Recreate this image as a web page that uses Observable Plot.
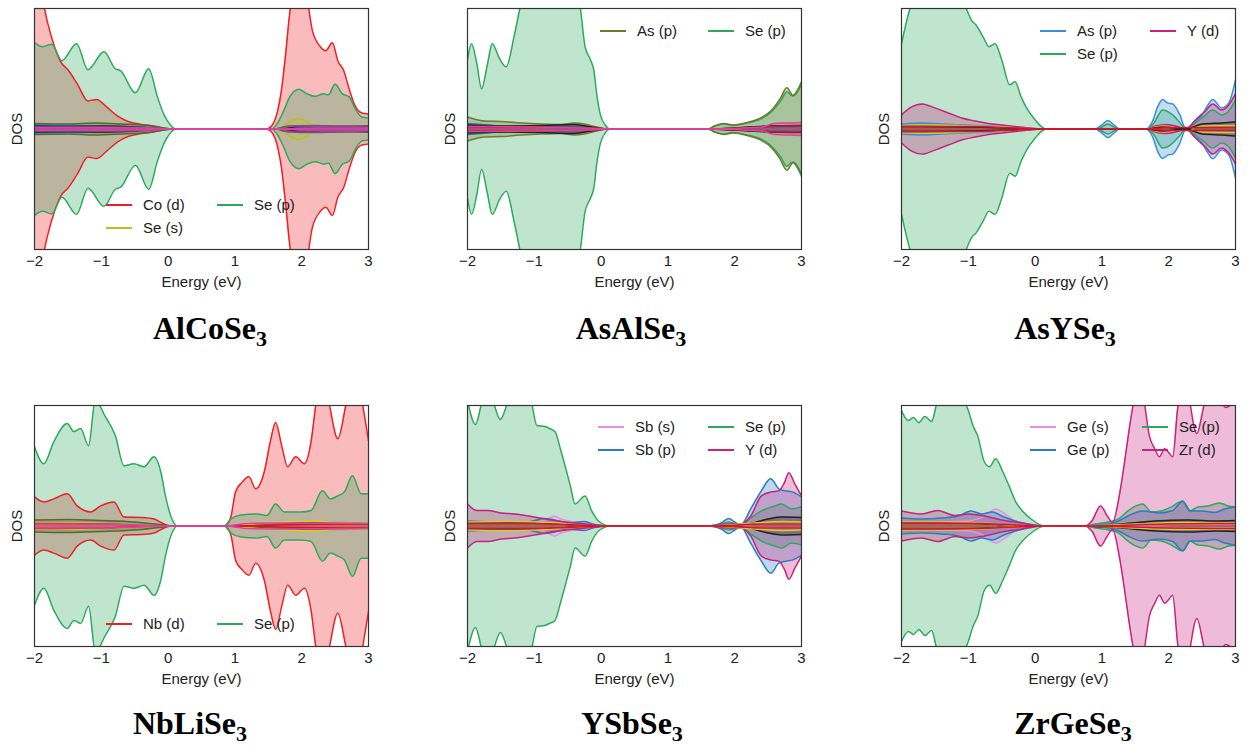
<!DOCTYPE html>
<html><head><meta charset="utf-8">
<script src="https://cdn.jsdelivr.net/npm/d3@7"></script>
<script src="https://cdn.jsdelivr.net/npm/@observablehq/plot@0.6"></script>
<style>
body{margin:0;background:#fff;width:1250px;height:746px;position:relative;overflow:hidden;font-family:"Liberation Sans",Arial,sans-serif}
.panel{position:absolute}
.title{position:absolute;font-family:"Liberation Serif","Times New Roman",serif;font-weight:bold;font-size:32px;line-height:1;text-align:center;width:300px;white-space:nowrap;color:#000}
.title sub{font-size:22px;vertical-align:-7px;line-height:0}
.leg{position:absolute;font-size:15px;color:#222;white-space:nowrap;line-height:1}
.sw{position:absolute;height:0;border-top:2px solid}
</style></head><body>
<script>
// ---------- tick labels ----------
const energyTicks = [-2, -1, 0, 1, 2, 3];

// ---------- AlCoSe3 ----------
const alcose_CoD = [[-2,16],[-1.9,13.5],[-1.8,10.5],[-1.7,8.2],[-1.6,6.6],[-1.5,5.9],[-1.36,4.5],[-1.2,2.8],[-1.07,2.95],[-0.92,2.2],[-0.76,1.3],[-0.6,0.75],[-0.4,0.45],[-0.2,0.28],[-0.05,0.08],[0.05,0],[1.47,0],[1.56,0.4],[1.64,1.8],[1.7,4.0],[1.76,7.5],[1.82,11.5],[1.95,15],[2.08,13],[2.16,9.8],[2.28,8.2],[2.36,7.8],[2.46,8.6],[2.54,6.8],[2.63,5.8],[2.71,4.0],[2.8,2.3],[2.9,1.6],[3,1.5]];
const alcose_SeP = [[-2,8.6],[-1.88,8.2],[-1.74,8.45],[-1.59,6.8],[-1.37,8.5],[-1.2,5.9],[-0.96,7.7],[-0.79,6.0],[-0.71,5.8],[-0.49,3.6],[-0.29,6.0],[-0.16,3.2],[-0.06,1.4],[0.04,0.35],[0.12,0],[1.55,0],[1.63,0.5],[1.73,1.8],[1.83,3.3],[1.96,3.95],[2.08,3.5],[2.2,3.25],[2.33,3.5],[2.4,3.4],[2.5,4.45],[2.61,3.5],[2.71,3.2],[2.81,1.9],[2.9,1.2],[3,1.1]];
const alcose_SeS = [[-2,0.35],[-1.5,0.3],[-1,0.3],[-0.5,0.2],[0,0.02],[0.1,0],[1.6,0],[1.7,0.2],[1.82,0.7],[1.95,1.05],[2.08,0.75],[2.2,0.25],[2.4,0.2],[2.7,0.25],[3,0.2]];
const alcose_m1 = [[-2,0.55],[-1.5,0.5],[-1.1,0.6],[-0.7,0.5],[-0.3,0.35],[0,0.05],[0.1,0],[1.6,0],[1.8,0.3],[2.2,0.35],[2.6,0.3],[3,0.3]];
const alcose_m2 = [[-2,0.4],[-1.6,0.35],[-1.2,0.3],[-0.6,0.25],[-0.2,0.1],[0.05,0],[1.6,0],[2,0.15],[3,0.15]];
const alcose_m3 = [[-2,0.3],[-1.5,0.25],[-1,0.3],[-0.5,0.2],[0,0],[1.6,0],[2,0.25],[2.5,0.2],[3,0.25]];
const alcose_m4 = [[-2,0.2],[-1,0.2],[-0.3,0.15],[0,0],[1.6,0],[1.9,0.3],[2.5,0.25],[3,0.2]];
const alcose_m5 = [[-2,0.12],[-1,0.12],[-0.3,0.08],[0,0],[1.6,0],[2.2,0.1],[3,0.1]];

// ---------- AsAlSe3 ----------
const asalse_SeP = [[-2,6.9],[-1.94,8.5],[-1.86,6.5],[-1.79,4.0],[-1.7,6.5],[-1.63,8.5],[-1.52,7.0],[-1.42,6.2],[-1.3,9.3],[-1.2,12.5],[-1.0,17],[-0.7,18],[-0.45,16],[-0.31,12],[-0.24,8.2],[-0.16,6.9],[-0.11,5.9],[-0.06,3.2],[-0.01,1.4],[0.06,0.4],[0.14,0],[1.6,0],[1.7,0.3],[1.84,0.5],[1.97,0.35],[2.19,0.6],[2.39,1.0],[2.54,1.65],[2.69,2.8],[2.78,3.7],[2.86,3.3],[3,4.7]];
const asalse_AsP = [[-2,1.2],[-1.9,1.0],[-1.75,0.8],[-1.5,0.75],[-1.2,0.6],[-0.9,0.5],[-0.6,0.45],[-0.4,0.6],[-0.25,0.5],[-0.1,0.25],[0.1,0],[1.6,0],[1.7,0.3],[1.84,0.55],[1.97,0.4],[2.19,0.65],[2.39,1.1],[2.54,1.8],[2.68,3.0],[2.78,4.1],[2.88,3.3],[3,4.5]];
const asalse_m1 = [[-2,0.55],[-1.8,0.45],[-1.5,0.3],[-1,0.25],[-0.5,0.3],[-0.2,0.2],[0.1,0],[1.6,0],[2,0.1],[2.6,0.2],[3,0.25]];
const asalse_m2 = [[-2,0.4],[-1.4,0.3],[-0.9,0.35],[-0.4,0.45],[-0.1,0.15],[0.1,0],[1.6,0],[2.5,0.3],[3,0.35]];
const asalse_m3 = [[-2,0.2],[-1,0.18],[-0.3,0.15],[0.1,0],[1.6,0],[2.3,0.15],[2.7,0.3],[3,0.3]];
const asalse_m4 = [[-2,0.25],[-1,0.2],[0,0.05],[0.1,0],[1.6,0],[2.4,0.2],[2.6,0.55],[2.8,0.6],[3,0.65]];

// ---------- AsYSe3 ----------
const asyse_SeP = [[-2,8.5],[-1.86,12.3],[-1.6,15],[-1.3,14],[-1.05,12.3],[-1.0,11.5],[-0.95,10.8],[-0.89,10.4],[-0.78,9.2],[-0.69,8.2],[-0.6,8.5],[-0.5,6.9],[-0.38,4.4],[-0.3,4.7],[-0.21,3.2],[-0.11,1.9],[-0.01,1.0],[0.09,0.27],[0.16,0],[0.9,0],[1.0,0.2],[1.09,0.5],[1.18,0.2],[1.27,0],[1.66,0],[1.78,0.6],[1.91,1.9],[2.06,1.4],[2.16,0.7],[2.26,0],[2.4,0.6],[2.52,1.2],[2.66,1.9],[2.79,1.4],[2.9,1.8],[3,2.9]];
const asyse_YD = [[-2,1.4],[-1.85,2.2],[-1.69,2.5],[-1.5,2.1],[-1.3,1.6],[-1.1,1.1],[-0.9,0.8],[-0.7,0.55],[-0.5,0.4],[-0.3,0.25],[-0.1,0.1],[0.1,0],[1.66,0],[1.8,0.3],[1.95,0.45],[2.1,0.3],[2.26,0],[2.4,0.9],[2.55,1.8],[2.66,2.5],[2.79,1.9],[2.9,2.4],[3,3.5]];
const asyse_AsP = [[-2,0.5],[-1.7,0.6],[-1.4,0.5],[-1.1,0.4],[-0.7,0.3],[-0.4,0.2],[-0.1,0.1],[0.1,0],[0.9,0],[1.0,0.4],[1.09,0.85],[1.18,0.4],[1.27,0],[1.66,0],[1.76,0.8],[1.84,2.3],[1.91,2.95],[1.98,2.6],[2.06,2.5],[2.16,1.5],[2.26,0],[2.38,0.7],[2.49,1.3],[2.58,2.3],[2.66,2.95],[2.79,2.1],[2.9,2.6],[3,4.9]];
const asyse_m1 = [[-2,0.35],[-1.5,0.4],[-1,0.3],[-0.5,0.2],[0.1,0],[1.66,0],[1.9,0.3],[2.26,0],[2.5,0.3],[3,0.35]];
const asyse_m2 = [[-2,0.25],[-1,0.2],[-0.4,0.1],[0.1,0],[1.66,0],[1.9,0.2],[2.26,0],[2.5,0.5],[2.8,0.6],[3,0.7]];
const asyse_m3 = [[-2,0.25],[-1,0.25],[-0.3,0.1],[0.1,0],[1.66,0],[2,0.15],[3,0.15]];

// ---------- NbLiSe3 ----------
const nblise_SeP = [[-2,7.9],[-1.86,6.2],[-1.71,8.4],[-1.51,10.2],[-1.41,9.4],[-1.31,9.7],[-1.19,8.0],[-1.09,12.5],[-0.94,10.9],[-0.79,9.0],[-0.66,6.0],[-0.51,6.2],[-0.36,5.9],[-0.21,6.9],[-0.11,5.4],[-0.04,3.0],[0.04,1.0],[0.14,0],[0.84,0],[0.94,0.7],[1.09,1.1],[1.33,1.2],[1.48,1.05],[1.61,2.2],[1.74,1.4],[1.99,1.4],[2.14,1.55],[2.31,3.5],[2.43,2.7],[2.54,3.0],[2.64,3.4],[2.76,5.0],[2.89,3.2],[3,3.2]];
const nblise_NbD = [[-2,2.9],[-1.86,2.4],[-1.71,2.7],[-1.51,3.2],[-1.36,2.0],[-1.16,1.4],[-1.01,2.0],[-0.81,2.4],[-0.66,0.9],[-0.4,0.85],[-0.21,0.7],[-0.06,0.2],[0.02,0],[0.84,0],[0.9,0.3],[0.94,0.9],[1.01,3.4],[1.1,4.3],[1.21,4.9],[1.31,3.7],[1.44,5.4],[1.53,8.4],[1.61,10.3],[1.7,8.0],[1.79,5.9],[1.91,6.9],[2.04,6.2],[2.14,8.4],[2.21,12],[2.3,15],[2.4,12.5],[2.54,8.7],[2.66,12],[2.78,16],[2.9,12.5],[3,8.5]];
const nblise_m1 = [[-2,0.6],[-1.5,0.65],[-1,0.55],[-0.5,0.4],[0,0.05],[0.1,0],[0.84,0],[1.5,0.2],[2.3,0.35],[3,0.3]];
const nblise_m2 = [[-2,0.3],[-1.5,0.3],[-1,0.25],[0,0],[0.84,0],[1.5,0.3],[2.2,0.5],[2.5,0.35],[3,0.3]];
const nblise_m3 = [[-2,0.25],[-1,0.2],[0,0],[0.84,0],[2,0.15],[3,0.2]];
const nblise_m4 = [[-2,0.2],[-1,0.2],[0,0],[0.84,0],[1.2,0.25],[1.8,0.3],[2.5,0.3],[3,0.25]];

// ---------- YSbSe3 ----------
const ysbse_SbS = [[-2,0.3],[-1.5,0.3],[-1.0,0.35],[-0.8,0.7],[-0.7,1.0],[-0.6,0.7],[-0.4,0.4],[-0.2,0.3],[0.05,0],[1.62,0],[2,0.1],[2.5,0.2],[3,0.2]];
const ysbse_SbP = [[-2,0.5],[-1.5,0.4],[-1.1,0.4],[-0.85,0.75],[-0.7,0.6],[-0.5,0.3],[-0.25,0.45],[-0.1,0.15],[0.1,0],[1.62,0],[1.8,0.3],[1.91,0.75],[2.0,0.4],[2.09,0.1],[2.24,1.7],[2.39,3.4],[2.54,4.7],[2.66,3.7],[2.76,3.5],[2.86,3.4],[3,2.9]];
const ysbse_SeP = [[-2,12.5],[-1.88,10.1],[-1.76,12.6],[-1.63,12.4],[-1.51,10.6],[-1.38,12.6],[-1.2,14],[-1.05,12.5],[-0.96,10.0],[-0.84,9.9],[-0.77,9.7],[-0.69,9.4],[-0.61,7.7],[-0.54,6.0],[-0.46,4.0],[-0.39,2.2],[-0.24,3.0],[-0.14,1.5],[-0.04,0.5],[0.14,0],[1.62,0],[1.8,0.2],[1.91,0.4],[2.09,0.1],[2.24,0.8],[2.4,1.5],[2.6,2.0],[2.7,2.2],[2.85,1.7],[3,1.9]];
const ysbse_YD = [[-2,2.2],[-1.86,1.55],[-1.7,1.55],[-1.5,1.3],[-1.3,1.2],[-1.0,0.9],[-0.7,0.55],[-0.4,0.3],[-0.1,0.1],[0.1,0],[1.62,0],[1.9,0.2],[2.1,0.2],[2.24,1.0],[2.4,3.0],[2.55,3.4],[2.66,3.5],[2.75,4.4],[2.81,5.3],[2.9,4.2],[3,3.0]];
const ysbse_m1 = [[-2,0.3],[-1,0.3],[0,0],[1.62,0],[2.2,0.2],[2.5,0.7],[2.7,0.9],[3,0.85]];
const ysbse_m2 = [[-2,0.4],[-1.4,0.45],[-0.8,0.35],[0,0],[1.62,0],[2.3,0.3],[2.7,0.45],[3,0.4]];
const ysbse_m3 = [[-2,0.25],[-1,0.25],[-0.5,0.15],[0.1,0],[1.62,0],[2.5,0.2],[3,0.2]];

// ---------- ZrGeSe3 ----------
const zrgese_GeS = [[-2,0.4],[-1.5,0.4],[-1.0,0.5],[-0.75,1.0],[-0.59,1.7],[-0.45,1.2],[-0.3,0.5],[-0.1,0.2],[0.1,0],[0.75,0],[1.5,0.1],[2.5,0.2],[3,0.2]];
const zrgese_GeP = [[-2,0.8],[-1.7,0.7],[-1.4,0.8],[-1.15,1.0],[-0.96,1.5],[-0.8,1.2],[-0.64,1.4],[-0.5,1.0],[-0.3,0.5],[-0.1,0.2],[0.1,0],[0.75,0],[0.9,0.1],[1.1,0.2],[1.25,0.5],[1.39,1.0],[1.61,1.5],[1.86,1.3],[2.06,1.55],[2.21,2.45],[2.33,1.5],[2.49,1.5],[2.69,1.35],[2.84,1.7],[3,1.9]];
const zrgese_SeP = [[-2,11.5],[-1.9,10.5],[-1.82,10.8],[-1.74,10.3],[-1.65,10.9],[-1.55,10.4],[-1.45,12.5],[-1.3,12.3],[-1.2,12.4],[-1.09,12.6],[-1.0,11.5],[-0.93,10.0],[-0.86,9.0],[-0.76,6.4],[-0.68,5.9],[-0.59,6.7],[-0.49,5.5],[-0.39,4.0],[-0.29,2.4],[-0.19,1.5],[-0.06,0.7],[0.14,0],[0.75,0],[0.9,0.2],[1.1,0.4],[1.25,0.7],[1.39,1.5],[1.51,2.0],[1.61,2.2],[1.74,1.4],[1.89,1.5],[2.04,1.9],[2.21,2.5],[2.31,1.5],[2.44,1.9],[2.59,2.0],[2.76,2.3],[2.89,2.0],[3,1.9]];
const zrgese_ZrD = [[-2,1.5],[-1.7,1.2],[-1.46,1.55],[-1.2,1.05],[-1.0,1.2],[-0.76,1.0],[-0.5,0.6],[-0.25,0.35],[-0.05,0.1],[0.1,0],[0.75,0],[0.85,0.5],[0.98,2.0],[1.08,1.0],[1.16,0.35],[1.26,3.0],[1.34,6.4],[1.41,9.7],[1.47,12.2],[1.55,15],[1.63,12.5],[1.71,9.0],[1.79,7.7],[1.86,6.9],[1.94,7.7],[1.99,7.4],[2.06,6.9],[2.14,12],[2.25,14],[2.42,9.2],[2.55,12.5],[2.7,13.5],[2.85,11.8],[3,12.5]];
const zrgese_m1 = [[-2,0.35],[-1,0.3],[0,0],[0.75,0],[1.3,0.2],[1.8,0.5],[2.3,0.6],[2.7,0.5],[3,0.55]];
const zrgese_m2 = [[-2,0.4],[-1,0.35],[0,0],[0.75,0],[1.5,0.2],[2.2,0.35],[3,0.3]];
const zrgese_m3 = [[-2,0.3],[-1.4,0.3],[-0.6,0.2],[0.1,0],[0.75,0],[2,0.2],[3,0.25]];

// ---------- colours ----------
const C = {
  red: "#ee1f25", green: "#2caa5c", ses: "#b8c21c", olive: "#6e7a28",
  blue: "#3a8fdc", sbblue: "#2c7cc0", magenta: "#c8217f", violet: "#e98fe4",
  mBlue: "#1f77b4", mOlive: "#4f6e26", mBlack: "#222222", mPurple: "#9b3fb5",
  mRed: "#d8152e", mYellow: "#cfd11f", mPink: "#e0409e"
};

const panels = [
  {left: 0, top: 0, title: "AlCoSe", tc: 210,
   series: [[alcose_CoD, C.red], [alcose_SeP, C.green], [alcose_SeS, C.ses], [alcose_m1, C.mOlive], [alcose_m2, C.mBlue], [alcose_m3, C.mBlack], [alcose_m4, C.mPurple], [alcose_m5, C.mPink]],
   legend: [["Co (d)", C.red, 0, 0], ["Se (p)", C.green, 1, 0], ["Se (s)", C.ses, 0, 1]], lx: [106, 217], ly: 205},
  {left: 433, top: 0, title: "AsAlSe", tc: 631,
   series: [[asalse_SeP, C.green], [asalse_AsP, C.olive], [asalse_m1, C.mBlue], [asalse_m2, C.mBlack], [asalse_m3, C.mRed], [asalse_m4, C.mPink]],
   legend: [["As (p)", C.olive, 0, 0], ["Se (p)", C.green, 1, 0]], lx: [600, 708], ly: 31},
  {left: 867, top: 0, title: "AsYSe", tc: 1065,
   series: [[asyse_SeP, C.green], [asyse_AsP, C.blue], [asyse_YD, C.magenta], [asyse_m1, C.mYellow], [asyse_m2, C.mBlack], [asyse_m3, C.mRed]],
   legend: [["As (p)", C.blue, 0, 0], ["Y (d)", C.magenta, 1, 0], ["Se (p)", C.green, 0, 1]], lx: [1040, 1150], ly: 31},
  {left: 0, top: 397, title: "NbLiSe", tc: 190,
   series: [[nblise_NbD, C.red], [nblise_SeP, C.green], [nblise_m1, C.mOlive], [nblise_m2, C.mYellow], [nblise_m3, C.mRed], [nblise_m4, C.mPink]],
   legend: [["Nb (d)", C.red, 0, 0], ["Se (p)", C.green, 1, 0]], lx: [106, 217], ly: 624},
  {left: 433, top: 397, title: "YSbSe", tc: 632,
   series: [[ysbse_SeP, C.green], [ysbse_SbS, C.violet], [ysbse_SbP, C.sbblue], [ysbse_YD, C.magenta], [ysbse_m1, C.mBlack], [ysbse_m2, C.mYellow], [ysbse_m3, C.mRed]],
   legend: [["Sb (s)", C.violet, 0, 0], ["Se (p)", C.green, 1, 0], ["Sb (p)", C.sbblue, 0, 1], ["Y (d)", C.magenta, 1, 1]], lx: [598, 708], ly: 427},
  {left: 867, top: 397, title: "ZrGeSe", tc: 1073,
   series: [[zrgese_SeP, C.green], [zrgese_GeS, C.violet], [zrgese_GeP, C.sbblue], [zrgese_ZrD, C.magenta], [zrgese_m1, C.mBlack], [zrgese_m2, C.mYellow], [zrgese_m3, C.mRed]],
   legend: [["Ge (s)", C.violet, 0, 0], ["Se (p)", C.green, 1, 0], ["Ge (p)", C.sbblue, 0, 1], ["Zr (d)", C.magenta, 1, 1]], lx: [1030, 1142], ly: 427}
];

const fmt = d => d < 0 ? "\u2212" + (-d) : String(d);
const FONT = "'Liberation Sans', Arial, sans-serif";
const CURVE = "monotone-x";

for (const p of panels) {
  const fills = [], lines = [];
  for (const [data, color] of p.series) {
    fills.push(Plot.areaY(data, {x: d => d[0], y1: d => -d[1], y2: d => d[1], fill: color, fillOpacity: 0.3, curve: CURVE, clip: true}));
    lines.push(Plot.line(data, {x: d => d[0], y: d => d[1], stroke: color, strokeWidth: 1.5, curve: CURVE, clip: true}));
    lines.push(Plot.line(data, {x: d => d[0], y: d => -d[1], stroke: color, strokeWidth: 1.5, curve: CURVE, clip: true}));
  }
  const marks = [...fills, ...lines,
    Plot.frame({stroke: "#333", strokeWidth: 1.2}),
    Plot.axisX(energyTicks, {tickSize: 0, tickPadding: 6, tickFormat: fmt, fontSize: 15, label: null, fill: "#222"}),
    Plot.text(["Energy (eV)"], {frameAnchor: "bottom", dy: 33, lineAnchor: "middle", fontSize: 15, fill: "#222"}),
    Plot.text(["DOS"], {frameAnchor: "left", dx: -17, rotate: -90, lineAnchor: "middle", textAnchor: "middle", fontSize: 15, fill: "#222"})
  ];
  const chart = Plot.plot({
    width: 378, height: 296, marginLeft: 34, marginRight: 10, marginTop: 8, marginBottom: 47,
    x: {domain: [-2, 3]}, y: {domain: [-12, 12], axis: null},
    style: {fontFamily: FONT, fontSize: "15px", background: "transparent", overflow: "visible"},
    marks
  });
  const wrap = document.createElement("div");
  wrap.className = "panel";
  wrap.style.left = p.left + "px";
  wrap.style.top = p.top + "px";
  wrap.appendChild(chart);
  document.body.appendChild(wrap);

  // legend
  for (const [name, color, col, row] of p.legend) {
    const x0 = p.lx[col];
    const y0 = p.ly + row * 22.5;
    const sw = document.createElement("div");
    sw.className = "sw";
    sw.style.left = x0 + "px"; sw.style.top = (y0 - 1) + "px"; sw.style.width = "26px";
    sw.style.borderTopColor = color;
    document.body.appendChild(sw);
    const t = document.createElement("div");
    t.className = "leg";
    t.textContent = name;
    t.style.left = (x0 + 37) + "px"; t.style.top = (y0 - 8) + "px";
    document.body.appendChild(t);
  }

  // title
  const ti = document.createElement("div");
  ti.className = "title";
  ti.innerHTML = p.title + "<sub>3</sub>";
  ti.style.left = (p.tc - 150) + "px";
  ti.style.top = (p.top === 0 ? 312 : 707) + "px";
  document.body.appendChild(ti);
}
</script>
</body></html>
